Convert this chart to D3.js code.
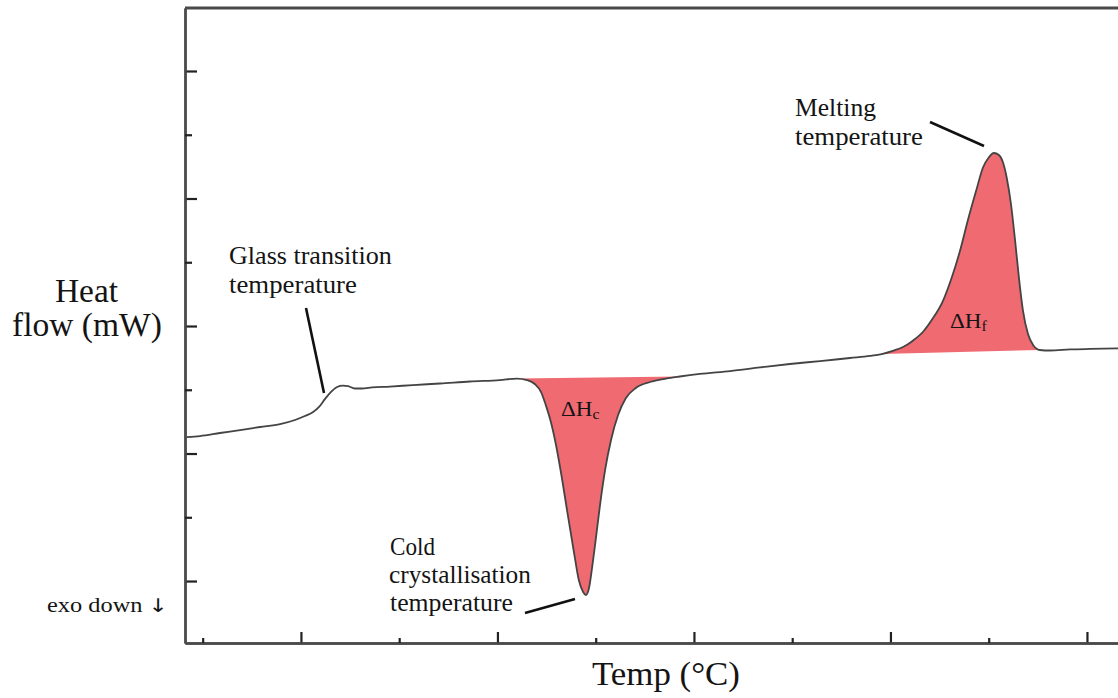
<!DOCTYPE html>
<html>
<head>
<meta charset="utf-8">
<script src="https://cdn.jsdelivr.net/npm/d3@7"></script>
<style>
  body { margin: 0; background: #fff; }
  svg { display: block; }
  text { font-family: "Liberation Serif", "Times New Roman", serif; fill: #141414; }
</style>
</head>
<body>
<svg id="chart" width="1118" height="698"></svg>
<script>
// DSC trace (temperature in °C, heat flow in arbitrary mW units)
const temps = [21.0, 24.3, 29.4, 34.5, 39.6, 44.7, 48.5, 51.0, 53.1, 54.6, 56.1, 57.6, 59.2, 60.7, 62.0, 63.7, 65.5, 68.1, 72.6, 78.5, 85.4, 93.0, 100.6, 104.96,
    107.5, 109.5, 111.1, 112.3, 113.6, 114.9, 116.4, 117.9, 119.5, 120.7, 121.8, 122.5, 123.3, 124.0, 125.0, 126.1, 127.4, 128.9, 130.7, 132.7, 135.2, 138.8, 142.9, 146.4,
    151.5, 159.2, 166.8, 174.4, 182.1, 189.7, 194.8, 197.8,
    200.6, 203.2, 205.7, 208.3, 210.8, 213.4, 215.6, 217.7, 219.7, 221.8, 223.5, 225.1, 226.3, 227.6, 228.6, 229.6, 230.7, 231.7, 232.7, 233.7, 235.0, 236.3, 238.0,
    240.6, 245.7, 250.8, 257.9]
const heatFlow = [1.129, 1.137, 1.161, 1.184, 1.208, 1.231, 1.263, 1.294, 1.325, 1.365, 1.427, 1.482, 1.522, 1.533, 1.529, 1.510, 1.510, 1.518, 1.525, 1.537, 1.549, 1.565, 1.576, 1.588,
    1.576, 1.545, 1.482, 1.380, 1.247, 1.067, 0.808, 0.518, 0.220, 0.008, -0.086, -0.110, -0.055, 0.086, 0.322, 0.596, 0.871, 1.106, 1.302, 1.435, 1.514, 1.561, 1.588, 1.604,
    1.624, 1.647, 1.675, 1.702, 1.725, 1.749, 1.765, 1.780,
    1.805, 1.835, 1.885, 1.955, 2.060, 2.200, 2.380, 2.590, 2.830, 3.060, 3.239, 3.325, 3.357, 3.341, 3.286, 3.161, 2.949, 2.675, 2.376, 2.125, 1.937, 1.851, 1.812,
    1.808, 1.816, 1.820, 1.824]

// integration limits of the two peaks
const crystRange = [104.96, 146.4]
const meltRange = [197.8, 238.0]

const xMajor = [50, 100, 150, 200, 250]
const xMinor = [25, 75, 125, 175, 225]
const yMajor = [0, 1, 2, 3, 4]
const yMinor = [0.5, 1.5, 2.5, 3.5]

const dataset = temps.map((t, i) => ({ t: t, h: heatFlow[i] }))

let dimensions = {
    width: 1118,
    height: 698,
    margin: { top: 8, right: 0, bottom: 55, left: 185 },
}
dimensions.boundedWidth = dimensions.width - dimensions.margin.left - dimensions.margin.right
dimensions.boundedHeight = dimensions.height - dimensions.margin.top - dimensions.margin.bottom

const svg = d3.select("#chart")

const xScale = d3.scaleLinear()
    .domain([20.5, 257.9])
    .range([dimensions.margin.left, dimensions.margin.left + dimensions.boundedWidth])
const yScale = d3.scaleLinear()
    .domain([-0.486, 4.494])
    .range([dimensions.margin.top + dimensions.boundedHeight, dimensions.margin.top])

const lineGenerator = d3.line()
    .x(d => xScale(d.t))
    .y(d => yScale(d.h))
    .curve(d3.curveMonotoneX)

// shaded peak areas (closed back along a straight baseline)
const fillColor = "#f06a72"
;[crystRange, meltRange].forEach(r => {
    const seg = dataset.filter(d => d.t >= r[0] && d.t <= r[1])
    svg.append("path")
        .attr("d", lineGenerator(seg) + "Z")
        .attr("fill", fillColor)
        .attr("stroke", "none")
})

// the trace
svg.append("path")
    .attr("d", lineGenerator(dataset))
    .attr("fill", "none")
    .attr("stroke", "#444")
    .attr("stroke-width", 1.8)

// axes
const axisColor = "#4a4a4a"
const bottomY = yScale.range()[0]
const leftX = xScale.range()[0]

const xAxis = svg.append("g")
    .attr("transform", `translate(0,${bottomY})`)
    .call(d3.axisBottom(xScale).tickValues(xMajor).tickSizeInner(-11).tickSizeOuter(0).tickFormat(""))
const xAxisMinor = svg.append("g")
    .attr("transform", `translate(0,${bottomY})`)
    .call(d3.axisBottom(xScale).tickValues(xMinor).tickSizeInner(-5).tickSizeOuter(0).tickFormat(""))
const yAxis = svg.append("g")
    .attr("transform", `translate(${leftX},0)`)
    .call(d3.axisLeft(yScale).tickValues(yMajor).tickSizeInner(-12).tickSizeOuter(0).tickFormat(""))
const yAxisMinor = svg.append("g")
    .attr("transform", `translate(${leftX},0)`)
    .call(d3.axisLeft(yScale).tickValues(yMinor).tickSizeInner(-7).tickSizeOuter(0).tickFormat(""))

svg.selectAll(".domain").attr("stroke", axisColor).attr("stroke-width", 2.4)
svg.selectAll(".tick line").attr("stroke", "#222").attr("stroke-width", 2.2)

// top frame line
svg.append("line")
    .attr("x1", leftX)
    .attr("x2", xScale.range()[1])
    .attr("y1", yScale.range()[1])
    .attr("y2", yScale.range()[1])
    .attr("stroke", axisColor)
    .attr("stroke-width", 3)

// text helper: measure the glyphs and fit them to the width seen in the picture
function label(txt, x, y, size, width) {
    const t = svg.append("text")
        .attr("font-size", size)
        .text(txt)
    const w = t.node().getComputedTextLength()
    t.attr("transform", `translate(${x},${y}) scale(${width / w},1)`)
    return t
}

// axis titles
label("Heat", 55, 302, 33, 63)
label("flow (mW)", 12, 336, 33, 150)
label("Temp (\u00B0C)", 592, 685, 34, 148)

// "exo down" with a full-height arrow
const exo = svg.append("text").attr("font-size", 20)
exo.append("tspan").text("exo down ")
exo.append("tspan").attr("font-family", "DejaVu Sans").attr("font-size", 19).text("\u2193")
const exoW = exo.node().getComputedTextLength()
exo.attr("transform", `translate(47,612) scale(${121 / exoW},1)`)

// annotations
label("Glass transition", 229, 264, 25, 163)
label("temperature", 229, 293, 25, 128)
label("Melting", 795, 116, 25, 81)
label("temperature", 795, 145, 25, 128)
label("Cold", 390, 555, 25, 45)
label("crystallisation", 389, 583, 25, 142)
label("temperature", 390, 611, 25, 123)

const pointers = [
    [[306, 308], [324, 393]],
    [[930, 122], [984, 146]],
    [[525, 613], [575, 599]],
]
pointers.forEach(p => {
    svg.append("line")
        .attr("x1", p[0][0]).attr("y1", p[0][1])
        .attr("x2", p[1][0]).attr("y2", p[1][1])
        .attr("stroke", "#111")
        .attr("stroke-width", 2.6)
})

// enthalpy labels with subscripts
function enthalpy(sub, x, y) {
    const t = svg.append("text")
        .attr("transform", `translate(${x},${y}) scale(1.05,1)`)
        .attr("font-size", 22)
    t.append("tspan").text("\u0394H")
    t.append("tspan").attr("font-size", 15).attr("dy", 3).text(sub)
}
enthalpy("c", 561, 416)
enthalpy("f", 950, 328)
</script>
</body>
</html>
